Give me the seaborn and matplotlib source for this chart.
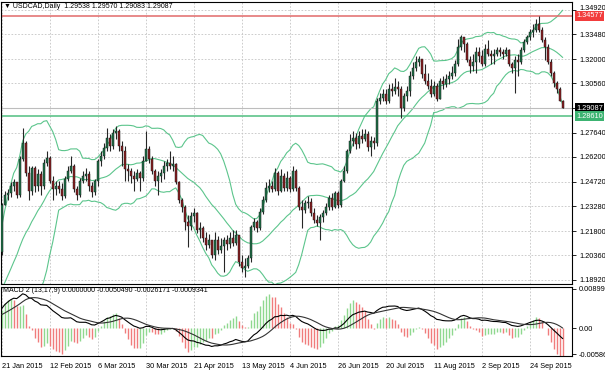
import matplotlib
matplotlib.use("Agg")
import matplotlib.pyplot as plt
import matplotlib.transforms as mtransforms
import numpy as np
import pandas as pd
import seaborn as sns

# USDCAD daily closes before the visible range (22 Dec 2014 - 20 Jan 2015), only feed the indicators
warmup_close = [1.1600, 1.1590, 1.1580, 1.1585, 1.1610, 1.1620, 1.1630, 1.1600, 1.1610, 1.1800, 1.1790,
                1.1830, 1.1810, 1.1840, 1.1850, 1.1920, 1.1970, 1.1930, 1.1900, 1.1990, 1.2000, 1.2057]

jan_close = [1.2333, 1.2392, 1.2404, 1.2451, 1.2469, 1.2392, 1.2610, 1.2704]
jan_high = [1.2345, 1.2421, 1.2433, 1.2469, 1.2492, 1.2469, 1.2627, 1.2792]
jan_low = [1.2039, 1.2333, 1.2363, 1.2380, 1.2421, 1.2374, 1.2380, 1.2598]

feb_close = [1.2527, 1.2421, 1.2557, 1.2451, 1.2521, 1.2451, 1.2586, 1.2616, 1.2480, 1.2433,
             1.2451, 1.2433, 1.2386, 1.2492, 1.2539, 1.2569, 1.2433, 1.2392, 1.2480, 1.2510]
feb_high = [1.2716, 1.2569, 1.2569, 1.2569, 1.2551, 1.2539, 1.2610, 1.2657, 1.2627, 1.2510,
            1.2480, 1.2480, 1.2463, 1.2510, 1.2569, 1.2627, 1.2580, 1.2451, 1.2498, 1.2539]
feb_low = [1.2510, 1.2363, 1.2392, 1.2410, 1.2421, 1.2392, 1.2433, 1.2569, 1.2463, 1.2363,
           1.2392, 1.2404, 1.2363, 1.2374, 1.2480, 1.2527, 1.2410, 1.2363, 1.2380, 1.2463]

mar_close = [1.2521, 1.2451, 1.2410, 1.2480, 1.2598, 1.2627, 1.2674, 1.2733, 1.2686, 1.2763, 1.2774,
             1.2686, 1.2657, 1.2551, 1.2539, 1.2510, 1.2492, 1.2527, 1.2498, 1.2598, 1.2669, 1.2610]
mar_high = [1.2557, 1.2539, 1.2469, 1.2492, 1.2610, 1.2657, 1.2704, 1.2792, 1.2757, 1.2786, 1.2804,
            1.2786, 1.2716, 1.2686, 1.2580, 1.2557, 1.2539, 1.2551, 1.2539, 1.2627, 1.2774, 1.2686]
mar_low = [1.2480, 1.2421, 1.2380, 1.2392, 1.2451, 1.2569, 1.2610, 1.2657, 1.2657, 1.2669, 1.2727,
           1.2657, 1.2569, 1.2480, 1.2480, 1.2463, 1.2421, 1.2480, 1.2421, 1.2480, 1.2598, 1.2586]

apr_close = [1.2539, 1.2480, 1.2510, 1.2527, 1.2569, 1.2586, 1.2569, 1.2580, 1.2469, 1.2363, 1.2321,
             1.2233, 1.2210, 1.2269, 1.2286, 1.2186, 1.2198, 1.2139, 1.2098, 1.2127, 1.2039, 1.2127]
apr_high = [1.2627, 1.2551, 1.2539, 1.2551, 1.2598, 1.2610, 1.2657, 1.2627, 1.2586, 1.2480, 1.2374,
            1.2333, 1.2274, 1.2292, 1.2316, 1.2292, 1.2233, 1.2210, 1.2175, 1.2163, 1.2127, 1.2175]
apr_low = [1.2521, 1.2451, 1.2392, 1.2469, 1.2492, 1.2539, 1.2551, 1.2539, 1.2457, 1.2345, 1.2292,
           1.2186, 1.2086, 1.2186, 1.2233, 1.2169, 1.2139, 1.2116, 1.2069, 1.2080, 1.2021, 1.2010]

may_close = [1.2069, 1.2092, 1.2127, 1.2104, 1.2139, 1.2110, 1.2157, 1.1998, 1.1963, 1.1974, 1.2021,
             1.2204, 1.2233, 1.2198, 1.2292, 1.2363, 1.2439, 1.2451, 1.2433, 1.2527, 1.2421]
may_high = [1.2151, 1.2139, 1.2145, 1.2157, 1.2175, 1.2186, 1.2186, 1.2139, 1.2039, 1.2021, 1.2039,
            1.2216, 1.2257, 1.2245, 1.2316, 1.2386, 1.2469, 1.2492, 1.2480, 1.2557, 1.2539]
may_low = [1.2045, 1.2051, 1.1939, 1.2069, 1.2080, 1.2092, 1.2098, 1.1974, 1.1939, 1.1910, 1.1963,
           1.1998, 1.2186, 1.2175, 1.2186, 1.2280, 1.2351, 1.2410, 1.2410, 1.2421, 1.2392]

jun_close = [1.2510, 1.2439, 1.2498, 1.2433, 1.2539, 1.2439, 1.2321, 1.2304, 1.2345, 1.2351, 1.2286,
             1.2245, 1.2227, 1.2263, 1.2286, 1.2321, 1.2374, 1.2321, 1.2404, 1.2333, 1.2480, 1.2539]
jun_high = [1.2551, 1.2527, 1.2539, 1.2510, 1.2569, 1.2551, 1.2451, 1.2363, 1.2363, 1.2386, 1.2374,
            1.2316, 1.2274, 1.2280, 1.2304, 1.2345, 1.2392, 1.2404, 1.2421, 1.2421, 1.2492, 1.2569]
jun_low = [1.2410, 1.2421, 1.2421, 1.2410, 1.2421, 1.2421, 1.2304, 1.2198, 1.2286, 1.2316, 1.2269,
           1.2227, 1.2210, 1.2127, 1.2233, 1.2274, 1.2304, 1.2304, 1.2316, 1.2316, 1.2321, 1.2469]

jul_close = [1.2657, 1.2716, 1.2733, 1.2698, 1.2745, 1.2727, 1.2757, 1.2680, 1.2716, 1.2704, 1.2951, 1.2969,
             1.2992, 1.2951, 1.3021, 1.3010, 1.3033, 1.3021, 1.2910, 1.2980, 1.3010, 1.3098, 1.3145]
jul_high = [1.2669, 1.2757, 1.2774, 1.2763, 1.2774, 1.2786, 1.2786, 1.2774, 1.2745, 1.2739, 1.2969, 1.2998,
            1.3021, 1.3021, 1.3051, 1.3057, 1.3086, 1.3069, 1.3039, 1.2998, 1.3039, 1.3127, 1.3186]
jul_low = [1.2527, 1.2645, 1.2686, 1.2669, 1.2674, 1.2704, 1.2716, 1.2657, 1.2627, 1.2669, 1.2686, 1.2933,
           1.2951, 1.2933, 1.2939, 1.2980, 1.2992, 1.2980, 1.2851, 1.2892, 1.2951, 1.2980, 1.3080]

aug_close = [1.3186, 1.3204, 1.3110, 1.3069, 1.3039, 1.2992, 1.3039, 1.2963, 1.3069, 1.3051, 1.3080,
             1.3098, 1.3116, 1.3174, 1.3274, 1.3333, 1.3292, 1.3198, 1.3157, 1.3186, 1.3245]
aug_high = [1.3216, 1.3216, 1.3204, 1.3174, 1.3116, 1.3080, 1.3069, 1.3057, 1.3086, 1.3098, 1.3110,
            1.3127, 1.3157, 1.3198, 1.3321, 1.3345, 1.3333, 1.3304, 1.3216, 1.3233, 1.3274]
aug_low = [1.3127, 1.3157, 1.3086, 1.3051, 1.3021, 1.2974, 1.2980, 1.2951, 1.2963, 1.3021, 1.3033,
           1.3051, 1.3080, 1.3098, 1.3157, 1.3257, 1.3245, 1.3186, 1.3116, 1.3127, 1.3116]

sep_close = [1.3216, 1.3169, 1.3263, 1.3233, 1.3216, 1.3233, 1.3257, 1.3245, 1.3233, 1.3257, 1.3169,
             1.3145, 1.3198, 1.3186, 1.3257, 1.3304, 1.3333, 1.3363, 1.3374, 1.3410, 1.3374, 1.3316]
sep_high = [1.3274, 1.3257, 1.3292, 1.3316, 1.3257, 1.3263, 1.3274, 1.3274, 1.3263, 1.3274, 1.3263,
            1.3186, 1.3216, 1.3233, 1.3274, 1.3321, 1.3345, 1.3380, 1.3410, 1.3439, 1.3457, 1.3392]
sep_low = [1.3186, 1.3157, 1.3157, 1.3216, 1.3174, 1.3169, 1.3216, 1.3216, 1.3204, 1.3216, 1.3157,
           1.3116, 1.2998, 1.3098, 1.3174, 1.3245, 1.3292, 1.3316, 1.3333, 1.3363, 1.3363, 1.3304]

oct_close = [1.3274, 1.3186, 1.3116, 1.3057, 1.3021, 1.2954, 1.29087]
oct_high = [1.3333, 1.3292, 1.3204, 1.3127, 1.3069, 1.3033, 1.29570]
oct_low = [1.3198, 1.3174, 1.3098, 1.3033, 1.2998, 1.2951, 1.29083]

# price axis grid levels (MT4 style), date labels every 16 bars
price_levels = [1.34920, 1.33480, 1.32000, 1.30560, 1.29120, 1.27640, 1.26200,
                1.24720, 1.23280, 1.21800, 1.20360, 1.18920]
price_labels = ["1.34920", "1.33480", "1.32000", "1.30560", "", "1.27640", "1.26200",
                "1.24720", "1.23280", "1.21800", "1.20360", "1.18920"]
date_labels = ["21 Jan 2015", "12 Feb 2015", "6 Mar 2015", "30 Mar 2015", "21 Apr 2015", "13 May 2015",
               "4 Jun 2015", "26 Jun 2015", "20 Jul 2015", "11 Aug 2015", "2 Sep 2015", "24 Sep 2015"]
resistance = 1.34577
support = 1.28610
last_price = 1.29087
macd_levels = [0.008996, 0.0, -0.005864]
macd_labels = ["0.008996", "0.00", "-0.005864"]

sns.set_style("white")
plt.rcParams["font.family"] = ["Liberation Sans", "DejaVu Sans"]
FS = 5.3
plt.rcParams["font.size"] = FS

close = np.array(jan_close + feb_close + mar_close + apr_close + may_close + jun_close +
                 jul_close + aug_close + sep_close + oct_close)
high = np.array(jan_high + feb_high + mar_high + apr_high + may_high + jun_high +
                jul_high + aug_high + sep_high + oct_high)
low = np.array(jan_low + feb_low + mar_low + apr_low + may_low + jun_low +
               jul_low + aug_low + sep_low + oct_low)
n = len(close)
x = np.arange(n)
open_ = np.concatenate([[warmup_close[-1]], close[:-1]])
high = np.maximum(high, np.maximum(open_, close))
low = np.minimum(low, np.minimum(open_, close))

# indicators
full = pd.Series(warmup_close + list(close))
mid = full.rolling(20).mean()
sd = full.rolling(20).std(ddof=0)
bb_mid = mid.to_numpy()[-n:]
bb_up = (mid + 2 * sd).to_numpy()[-n:]
bb_lo = (mid - 2 * sd).to_numpy()[-n:]
macd = full.ewm(span=13, adjust=False).mean() - full.ewm(span=17, adjust=False).mean()
signal = macd.rolling(9).mean()
hist = 3 * (macd - signal)
rising = (hist.diff() > 0).to_numpy()[-n:]
macd = macd.to_numpy()[-n:]
signal = signal.to_numpy()[-n:]
hist = hist.to_numpy()[-n:]

W, H = 605, 373
fig = plt.figure(figsize=(W / 100, H / 100), dpi=100)


def px_axes(x0, y0, x1, y1):
    return fig.add_axes([x0 / W, 1 - y1 / H, (x1 - x0) / W, (y1 - y0) / H])


ax = px_axes(1, 2, 572, 284)
ax2 = px_axes(1, 287, 572, 356)
xlim = (-0.233, 190.1)
grid_kw = dict(color="#c4c4c4", linestyle=(0, (2, 2)), linewidth=0.6)

# main panel
ax.set_xlim(xlim)
ax.set_ylim(1.1867, 1.3539)
ax.set_xticks(x[::16])
ax.set_yticks(price_levels)
ax.grid(True, **grid_kw)
ax.set_axisbelow(True)
ax.yaxis.tick_right()
ax.set_yticklabels(price_labels)
ax.tick_params(axis="y", direction="out", length=3, width=0.6, pad=2, labelsize=FS, colors="black")
ax.tick_params(axis="x", length=0, labelbottom=False)
# nudge the top price label up so it clears the resistance box
top_lab = ax.get_yticklabels()[0]
top_lab.set_transform(top_lab.get_transform() + mtransforms.ScaledTranslation(0, 2 / 100, fig.dpi_scale_trans))

for a in (ax, ax2):
    for s in a.spines.values():
        s.set_color("black")
        s.set_linewidth(0.8)

bb_color = "#5cc58c"
sns.lineplot(x=x, y=bb_up, ax=ax, color=bb_color, lw=0.8, zorder=2)
sns.lineplot(x=x, y=bb_mid, ax=ax, color=bb_color, lw=0.8, zorder=2)
sns.lineplot(x=x, y=bb_lo, ax=ax, color=bb_color, lw=0.8, zorder=2)

ax.axhline(resistance, color="#e26a6a", lw=1.1, zorder=2)
ax.axhline(support, color="#4fbf80", lw=1.1, zorder=2)
ax.axhline(last_price, color="#bdbdbd", lw=0.8, zorder=2)

up = close >= open_
body_lo = np.minimum(open_, close)
body_h = np.maximum(np.abs(close - open_), 0.00018)
ax.vlines(x, low, high, color="#262626", lw=0.8, zorder=3)
ax.bar(x[up], body_h[up], bottom=body_lo[up], width=0.7, color="#1f7048",
       edgecolor="#111111", linewidth=0.3, zorder=4)
ax.bar(x[~up], body_h[~up], bottom=body_lo[~up], width=0.7, color="#8a1f22",
       edgecolor="#111111", linewidth=0.3, zorder=4)

trans = mtransforms.blended_transform_factory(ax.transAxes, ax.transData)
for val, fc in [(resistance, "#f23c3c"), (last_price, "black"), (support, "#3cb371")]:
    ax.text(1 + 4 / 571, val, f"{val:.5f}", transform=trans, color="white", fontsize=FS,
            va="center", ha="left", clip_on=False, zorder=10,
            bbox=dict(boxstyle="square,pad=0.2", fc=fc, ec="none"))

fig.text(4 / W, 1 - 7 / H, "\u25bc USDCAD,Daily  1.29538 1.29570 1.29083 1.29087",
         va="center", ha="left", fontsize=5.0, color="black")

# MACD panel
ax2.set_xlim(xlim)
ax2.set_ylim(-0.00632, 0.00945)
ax2.vlines(x[rising], 0, hist[rising], color="#8fd88f", lw=1.0, zorder=2)
ax2.vlines(x[~rising], 0, hist[~rising], color="#f07c7c", lw=1.0, zorder=2)
sns.lineplot(x=x, y=macd, ax=ax2, color="black", lw=0.8, zorder=3)
sns.lineplot(x=x, y=signal, ax=ax2, color="#333333", lw=0.8, zorder=3)
ax2.set_xticks(x[::16])
ax2.set_xticklabels(date_labels, ha="left")
ax2.grid(True, axis="x", **grid_kw)
ax2.set_axisbelow(True)
ax2.yaxis.tick_right()
ax2.set_yticks(macd_levels)
ax2.set_yticklabels(macd_labels)
ax2.tick_params(axis="y", direction="out", length=3, width=0.6, pad=2, labelsize=FS, colors="black")
ax2.tick_params(axis="x", direction="out", length=2, width=0.6, pad=3, labelsize=FS, colors="black")

fig.text(3 / W, 1 - 291 / H, "MACD 2 (13,17,9) 0.0000000 -0.0050490 -0.0026171 -0.0009341",
         va="center", ha="left", fontsize=5.0, color="black")

fig.savefig("out.png", dpi=100)
